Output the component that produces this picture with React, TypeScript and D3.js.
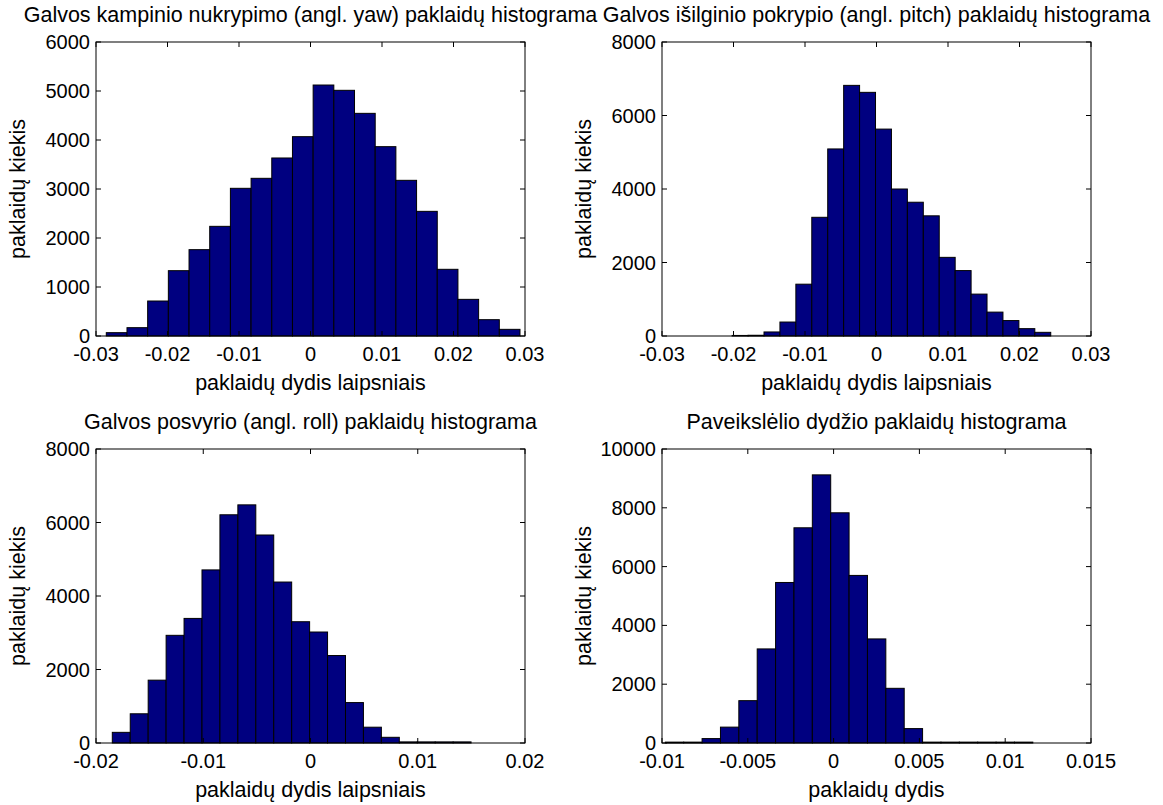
import React from "react";
import * as d3 from "d3";

// histogram counts (20 bins each)
const yawCounts = [68, 170, 714, 1333, 1762, 2238, 3014, 3218, 3633, 4068, 5122, 5014, 4544, 3864, 3177, 2544, 1361, 748, 333, 136];
const yawRange = [-0.02856, 0.0293];
const yawXTicks = [-0.03, -0.02, -0.01, 0, 0.01, 0.02, 0.03];
const yawYTicks = [0, 1000, 2000, 3000, 4000, 5000, 6000];

const pitchCounts = [15, 20, 110, 380, 1410, 3230, 5090, 6820, 6630, 5630, 4000, 3640, 3270, 2140, 1780, 1140, 650, 420, 200, 100];
const pitchRange = [-0.02019, 0.02437];
const pitchXTicks = [-0.03, -0.02, -0.01, 0, 0.01, 0.02, 0.03];
const pitchYTicks = [0, 2000, 4000, 6000, 8000];

const rollCounts = [290, 795, 1710, 2930, 3390, 4710, 6210, 6480, 5660, 4380, 3300, 3020, 2380, 1100, 430, 155, 30, 30, 30, 30];
const rollRange = [-0.01848, 0.01497];
const rollXTicks = [-0.02, -0.01, 0, 0.01, 0.02];
const rollYTicks = [0, 2000, 4000, 6000, 8000];

const sizeCounts = [30, 30, 150, 540, 1440, 3200, 5460, 7320, 9120, 7830, 5700, 3540, 1860, 490, 30, 30, 30, 30, 30, 30];
const sizeRange = [-0.009806, 0.01161];
const sizeXTicks = [-0.01, -0.005, 0, 0.005, 0.01, 0.015];
const sizeYTicks = [0, 2000, 4000, 6000, 8000, 10000];

const FONT = "'Liberation Sans', Arial, sans-serif";
const FS = 20; // tick labels
const FS_LABEL = 21.5; // title, axis labels
const BAR = "#000080";

type PanelProps = {
    left: number;
    top: number;
    width: number;
    height: number;
    title: string;
    xlabel: string;
    counts: number[];
    range: number[];
    xTicks: number[];
    yTicks: number[];
};

const Panel: React.FC<PanelProps> = ({ left, top, width, height, title, xlabel, counts, range, xTicks, yTicks }) => {
    const x = d3
        .scaleLinear()
        .domain([xTicks[0], xTicks[xTicks.length - 1]])
        .range([left, left + width]);
    const y = d3
        .scaleLinear()
        .domain([yTicks[0], yTicks[yTicks.length - 1]])
        .range([top + height, top]);

    const binW = (range[1] - range[0]) / counts.length;
    const tick = 5;

    return (
        <g fontFamily={FONT} fontSize={FS} fill="#000">
            {counts.map((c, i) => {
                const x0 = x(range[0] + i * binW);
                const x1 = x(range[0] + (i + 1) * binW);
                return (
                    <rect
                        key={i}
                        x={x0}
                        y={y(c)}
                        width={x1 - x0}
                        height={y(0) - y(c)}
                        fill={BAR}
                        stroke="#000"
                        strokeWidth={1}
                    />
                );
            })}
            <rect x={left} y={top} width={width} height={height} fill="none" stroke="#000" strokeWidth={1} />
            {xTicks.map((t) => (
                <g key={"x" + t}>
                    <line x1={x(t)} x2={x(t)} y1={top + height} y2={top + height - tick} stroke="#000" />
                    <line x1={x(t)} x2={x(t)} y1={top} y2={top + tick} stroke="#000" />
                    <text x={x(t)} y={top + height + 25} textAnchor="middle">
                        {String(t)}
                    </text>
                </g>
            ))}
            {yTicks.map((t) => (
                <g key={"y" + t}>
                    <line x1={left} x2={left + tick} y1={y(t)} y2={y(t)} stroke="#000" />
                    <line x1={left + width} x2={left + width - tick} y1={y(t)} y2={y(t)} stroke="#000" />
                    <text x={left - 6} y={y(t) + 7} textAnchor="end">
                        {String(t)}
                    </text>
                </g>
            ))}
            <text x={left + width / 2} y={top - 20} textAnchor="middle" fontSize={FS_LABEL}>
                {title}
            </text>
            <text x={left + width / 2} y={top + height + 54} textAnchor="middle" fontSize={FS_LABEL}>
                {xlabel}
            </text>
            <text
                transform={`translate(${left - 71},${top + height / 2}) rotate(-90)`}
                textAnchor="middle"
                fontSize={FS_LABEL}
            >
                paklaidų kiekis
            </text>
        </g>
    );
};

export default function App() {
    const colL = 96;
    const colR = 662;
    const rowT = 42;
    const rowB = 449;
    const w = 429;
    const h = 294;
    return (
        <svg
            width={1163}
            height={805}
            style={{ position: "absolute", left: 0, top: 0, background: "#fff" }}
        >
            <rect width={1163} height={805} fill="#fff" />
            <Panel
                left={colL}
                top={rowT}
                width={w}
                height={h}
                title="Galvos kampinio nukrypimo (angl. yaw) paklaidų histograma"
                xlabel="paklaidų dydis laipsniais"
                counts={yawCounts}
                range={yawRange}
                xTicks={yawXTicks}
                yTicks={yawYTicks}
            />
            <Panel
                left={colR}
                top={rowT}
                width={w}
                height={h}
                title="Galvos išilginio pokrypio (angl. pitch) paklaidų histograma"
                xlabel="paklaidų dydis laipsniais"
                counts={pitchCounts}
                range={pitchRange}
                xTicks={pitchXTicks}
                yTicks={pitchYTicks}
            />
            <Panel
                left={colL}
                top={rowB}
                width={w}
                height={h}
                title="Galvos posvyrio (angl. roll) paklaidų histograma"
                xlabel="paklaidų dydis laipsniais"
                counts={rollCounts}
                range={rollRange}
                xTicks={rollXTicks}
                yTicks={rollYTicks}
            />
            <Panel
                left={colR}
                top={rowB}
                width={w}
                height={h}
                title="Paveikslėlio dydžio paklaidų histograma"
                xlabel="paklaidų dydis"
                counts={sizeCounts}
                range={sizeRange}
                xTicks={sizeXTicks}
                yTicks={sizeYTicks}
            />
        </svg>
    );
}
